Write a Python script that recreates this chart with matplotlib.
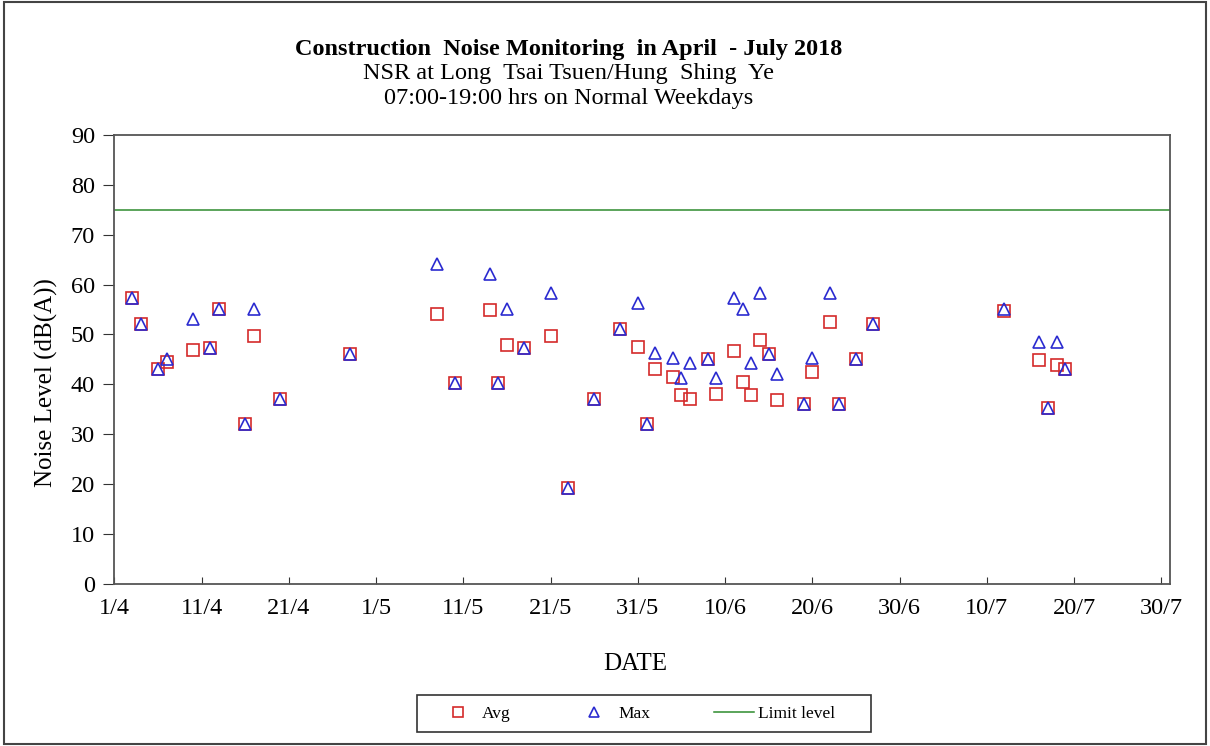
import matplotlib
matplotlib.use("Agg")
import matplotlib.pyplot as plt
import matplotlib.dates as mdates
from matplotlib.lines import Line2D
from matplotlib.patches import Rectangle
import pandas as pd

plt.rcParams['font.family'] = ['Liberation Serif', 'DejaVu Serif']

## data
dates = ["2018-04-03", "2018-04-04", "2018-04-06", "2018-04-07", "2018-04-10",
         "2018-04-12", "2018-04-13", "2018-04-16", "2018-04-17", "2018-04-20",
         "2018-04-28", "2018-05-08", "2018-05-10", "2018-05-14", "2018-05-15",
         "2018-05-16", "2018-05-18", "2018-05-21", "2018-05-23", "2018-05-26",
         "2018-05-29", "2018-05-31", "2018-06-01", "2018-06-02", "2018-06-04",
         "2018-06-05", "2018-06-06", "2018-06-08", "2018-06-09", "2018-06-11",
         "2018-06-12", "2018-06-13", "2018-06-14", "2018-06-15", "2018-06-16",
         "2018-06-19", "2018-06-20", "2018-06-22", "2018-06-23", "2018-06-25",
         "2018-06-27", "2018-07-12", "2018-07-16", "2018-07-17", "2018-07-18",
         "2018-07-19"]
avg_levels = [57.3, 52.1, 43.1, 44.5, 46.9, 47.2, 55.1, 32.0, 49.7, 37.1,
              46.1, 54.1, 40.2, 54.8, 40.2, 47.9, 47.2, 49.7, 19.2, 37.1,
              51.0, 47.4, 32.0, 43.1, 41.5, 37.9, 37.1, 45.1, 38.1, 46.7,
              40.4, 37.9, 48.9, 46.1, 36.9, 36.0, 42.5, 52.5, 36.0, 45.1,
              52.0, 54.6, 44.9, 35.2, 43.8, 43.1]
max_levels = [57.3, 52.1, 43.1, 45.1, 53.1, 47.2, 55.1, 32.0, 55.2, 37.1,
              46.1, 64.1, 40.2, 62.1, 40.2, 55.2, 47.2, 58.4, 19.2, 37.1,
              51.0, 56.4, 32.0, 46.2, 45.2, 41.3, 44.2, 45.1, 41.3, 57.3,
              55.1, 44.2, 58.4, 46.1, 42.1, 36.0, 45.2, 58.4, 36.0, 45.1,
              52.0, 55.1, 48.4, 35.2, 48.4, 43.1]
limit_level = 75
tick_dates = pd.date_range("2018-04-01", "2018-07-30", freq="10D")

x = pd.to_datetime(dates)

fig = plt.figure(figsize=(12.1, 7.46), dpi=100)
ax = fig.add_axes([0.0945, 0.2176, 0.8725, 0.6014])

ax.plot(x, avg_levels, linestyle='none', marker='s', markersize=8,
        markerfacecolor='none', markeredgecolor='#d42a2a', markeredgewidth=1.2)
ax.plot(x, max_levels, linestyle='none', marker='^', markersize=8,
        markerfacecolor='none', markeredgecolor='#2b2bd0', markeredgewidth=1.2)
ax.axhline(limit_level, color='#2e8b2e', linewidth=1.1)

ax.set_xlim(pd.Timestamp("2018-04-01"), pd.Timestamp("2018-07-31"))
ax.set_ylim(0, 90)
ax.set_yticks(range(0, 91, 10))
ax.set_xticks(tick_dates)
ax.xaxis.set_major_formatter(plt.FuncFormatter(
    lambda v, pos: f"{mdates.num2date(v).day}/{mdates.num2date(v).month}"))
ax.tick_params(axis='x', direction='in', length=5, labelsize=17.5, pad=10, color='#333333')
ax.tick_params(axis='y', direction='out', length=8, labelsize=17.5, pad=6, color='#333333')
for spine in ax.spines.values():
    spine.set_color('#555555')
    spine.set_linewidth(1.3)

ax.set_xlabel('DATE', fontsize=18)
ax.set_ylabel('Noise Level (dB(A))', fontsize=18)
ax.xaxis.set_label_coords(0.493, -0.155)
ax.yaxis.set_label_coords(-0.053, 0.448)

fig.text(0.47, 0.934, 'Construction  Noise Monitoring  in April  - July 2018',
         ha='center', va='center', fontsize=17.5, fontweight='bold')
fig.text(0.47, 0.901, 'NSR at Long  Tsai Tsuen/Hung  Shing  Ye',
         ha='center', va='center', fontsize=17.5)
fig.text(0.47, 0.868, '07:00-19:00 hrs on Normal Weekdays',
         ha='center', va='center', fontsize=17.5)

## custom legend below the plot, box drawn separately
handles = [
    Line2D([], [], linestyle='none', marker='s', markersize=7, markerfacecolor='none',
           markeredgecolor='#d42a2a', markeredgewidth=1.2, label='Avg'),
    Line2D([], [], linestyle='none', marker='^', markersize=7, markerfacecolor='none',
           markeredgecolor='#2b2bd0', markeredgewidth=1.2, label='Max'),
    Line2D([], [], color='#2e8b2e', linewidth=1.1, label='Limit level'),
]
fig.legend(handles=handles, loc='center left', bbox_to_anchor=(438 / 1210, 1 - 713.5 / 746),
           ncol=3, fontsize=12.5, frameon=False, columnspacing=3.65, handlelength=2.3,
           handletextpad=0.25, borderpad=0, borderaxespad=0)
fig.patches.append(Rectangle((417 / 1210, 1 - 732 / 746), 454 / 1210, 37 / 746,
                             transform=fig.transFigure, fill=False,
                             edgecolor='#333333', linewidth=1.2))

## outer border of the figure
fig.patches.append(Rectangle((0.003, 0.003), 0.994, 0.994, transform=fig.transFigure,
                             fill=False, edgecolor='#444444', linewidth=1.5))

fig.savefig('out.png', dpi=100)
